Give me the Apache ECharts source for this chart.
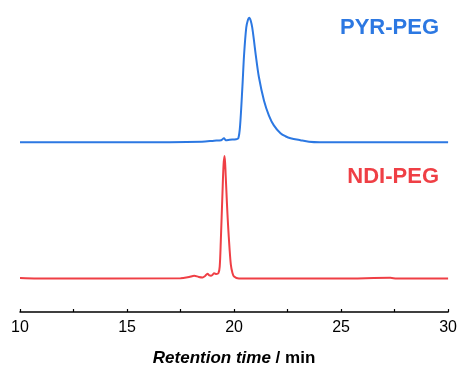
<!DOCTYPE html>
<html>
<head>
<meta charset="utf-8">
<script src="https://cdn.jsdelivr.net/npm/echarts@6/dist/echarts.min.js"></script>
<style>html,body{margin:0;padding:0;background:#fff}#c{width:460px;height:372px}</style>
</head>
<body>
<div id="c"></div>
<script>
// Retention time (min) and detector signal (a.u.)
var pyrTime   = [10.0, 14.0, 17.0, 18.5, 19.07, 19.4, 19.53, 19.62, 19.8, 20.1, 20.2, 20.28, 20.39, 20.47, 20.57, 20.65, 20.71, 20.78, 20.85, 20.93, 21.01, 21.16, 21.4, 21.63, 21.86, 22.17, 22.4, 22.64, 23.1, 23.5, 24.0, 30.0];
var pyrSignal = [0, 0, 0, 0.5, 1.5, 2, 4, 2, 2.5, 3, 4, 16, 56, 89, 116, 124, 126, 123, 116, 103, 89, 66, 42, 27, 17, 9, 6, 4, 2, 0.5, 0, 0];
var ndiTime   = [10.0, 10.8, 17.5, 17.9, 18.14, 18.35, 18.53, 18.65, 18.76, 18.85, 18.92, 19.0, 19.07, 19.17, 19.27, 19.33, 19.38, 19.46, 19.51, 19.56, 19.61, 19.67, 19.72, 19.79, 19.85, 19.92, 20.0, 20.23, 25.0, 27.3, 27.6, 30.0];
var ndiSignal = [0.5, 0, 0.3, 1.5, 2.7, 1.5, 1, 2.5, 4.7, 3, 2.7, 3.8, 5.3, 4.5, 5.3, 12, 37, 87, 115, 124, 104, 75, 54, 30, 14, 6, 2, 0, 0, 0.6, 0, 0];
var seriesNames = ['PYR-PEG', 'NDI-PEG'];
var xTicks = [10, 15, 20, 25, 30];
var pyrOffset = 138; // vertical stacking offset of the upper trace

function pairs(t, s, off) { return t.map(function (v, i) { return [v, s[i] + off]; }); }

var FONT = '"Liberation Sans", Arial, sans-serif';
var BLUE = '#2c78e2', RED = '#ef3f45';
var chart = echarts.init(document.getElementById('c'), null, { renderer: 'canvas' });
chart.setOption({
  animation: false,
  grid: { left: 20, right: 10, top: 0, bottom: 56 },
  xAxis: {
    type: 'value', min: xTicks[0], max: xTicks[xTicks.length - 1], interval: 5,
    axisLine: { onZero: false, lineStyle: { color: '#000', width: 1.5 } },
    axisTick: { inside: true, length: 3, lineStyle: { color: '#000', width: 1.2 } },
    minorTick: { show: true, splitNumber: 2, length: 3, lineStyle: { color: '#000', width: 1.2 } },
    splitLine: { show: false },
    axisLabel: { color: '#000', fontFamily: FONT, fontSize: 16, margin: 8 },
    name: '{a|Retention time}{b| / min}',
    nameLocation: 'middle', nameGap: 38,
    nameTextStyle: {
      rich: {
        a: { fontFamily: FONT, fontSize: 17, fontWeight: 'bold', fontStyle: 'italic', color: '#000' },
        b: { fontFamily: FONT, fontSize: 17, fontWeight: 'bold', color: '#000' }
      }
    }
  },
  yAxis: { type: 'value', min: -34, max: 282, show: false, splitLine: { show: false } },
  series: [
    { name: seriesNames[0], type: 'line', data: pairs(pyrTime, pyrSignal, pyrOffset), showSymbol: false,
      smooth: 0.3, lineStyle: { color: BLUE, width: 2 } },
    { name: seriesNames[1], type: 'line', data: pairs(ndiTime, ndiSignal, 0), showSymbol: false,
      smooth: 0.3, lineStyle: { color: RED, width: 2 } }
  ],
  graphic: [
    { type: 'text', right: 21, top: 17, style: { text: seriesNames[0], fill: BLUE, font: 'bold 22px ' + FONT } },
    { type: 'text', right: 21, top: 166, style: { text: seriesNames[1], fill: RED, font: 'bold 22px ' + FONT } }
  ]
});
</script>
</body>
</html>
